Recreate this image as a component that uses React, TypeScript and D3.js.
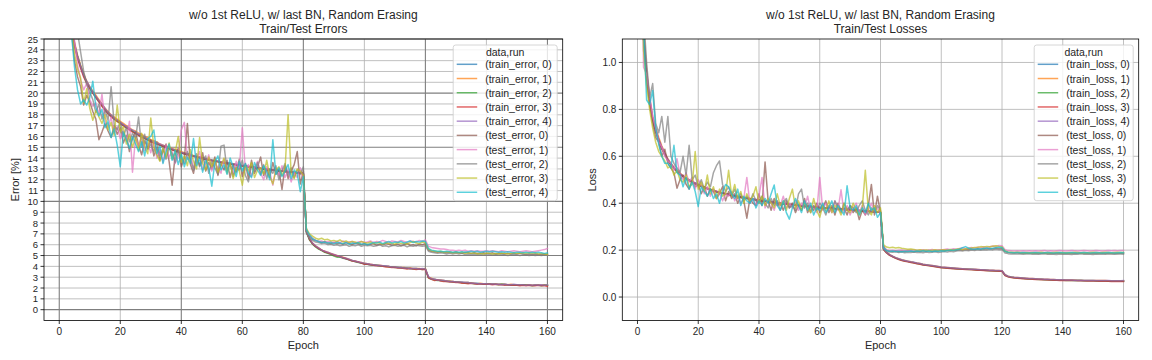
import React from 'react';
import * as d3 from 'd3';

// ---------- DATA ----------
const EPOCHS: number[] = d3.range(1, 161);

const ERR_LABELS = ['(train_error, 0)', '(train_error, 1)', '(train_error, 2)', '(train_error, 3)', '(train_error, 4)', '(test_error, 0)', '(test_error, 1)', '(test_error, 2)', '(test_error, 3)', '(test_error, 4)'];
const LOSS_LABELS = ['(train_loss, 0)', '(train_loss, 1)', '(train_loss, 2)', '(train_loss, 3)', '(train_loss, 4)', '(test_loss, 0)', '(test_loss, 1)', '(test_loss, 2)', '(test_loss, 3)', '(test_loss, 4)'];
const COLORS = ['#1f77b4', '#ff7f0e', '#2ca02c', '#d62728', '#9467bd', '#8c564b', '#e377c2', '#7f7f7f', '#bcbd22', '#17becf'];

const ERR_Y_TICKS = d3.range(0, 26);
const LOSS_Y_TICKS = [0, 0.2, 0.4, 0.6, 0.8, 1.0];
const X_TICKS = [0, 20, 40, 60, 80, 100, 120, 140, 160];

const TRAIN_ERR_0 = [
  55.2, 38.4, 31.0, 26.6, 24.4, 23.3, 22.4, 21.6, 21.0, 20.5,
  20.1, 19.7, 19.3, 18.9, 18.5, 18.2, 17.9, 17.7, 17.5, 17.3,
  17.1, 16.9, 16.7, 16.5, 16.3, 16.2, 16.0, 15.9, 15.7, 15.6,
  15.5, 15.4, 15.2, 15.1, 15.0, 14.9, 14.8, 14.7, 14.6, 14.5,
  14.4, 14.35, 14.3, 14.2, 14.1, 14.05, 14.0, 13.9, 13.85, 13.8,
  13.75, 13.7, 13.65, 13.6, 13.55, 13.5, 13.45, 13.4, 13.35, 13.3,
  13.25, 13.2, 13.2, 13.15, 13.1, 13.05, 13.0, 13.0, 12.95, 12.9,
  12.9, 12.85, 12.8, 12.8, 12.75, 12.7, 12.7, 12.65, 12.65, 12.6,
  7.2, 6.5, 6.1, 5.85, 5.65, 5.5, 5.35, 5.25, 5.15, 5.05,
  4.95, 4.9, 4.8, 4.7, 4.6, 4.55, 4.45, 4.4, 4.3, 4.25,
  4.2, 4.15, 4.15, 4.1, 4.05, 4.05, 4.0, 4.0, 3.95, 3.95,
  3.9, 3.9, 3.85, 3.85, 3.8, 3.8, 3.8, 3.75, 3.75, 3.75,
  3.0, 2.85, 2.8, 2.75, 2.7, 2.7, 2.65, 2.6, 2.6, 2.55,
  2.55, 2.5, 2.5, 2.5, 2.45, 2.45, 2.45, 2.4, 2.4, 2.4,
  2.4, 2.35, 2.35, 2.35, 2.35, 2.35, 2.3, 2.3, 2.3, 2.3,
  2.3, 2.3, 2.3, 2.25, 2.25, 2.25, 2.25, 2.25, 2.25, 2.25,
];
const TRAIN_ERR_1 = [
  56.0, 39.0, 31.5, 27.0, 24.7, 23.5, 22.6, 21.8, 21.1, 20.6,
  20.2, 19.8, 19.4, 19.0, 18.6, 18.3, 18.0, 17.8, 17.6, 17.4,
  17.2, 17.0, 16.8, 16.6, 16.5, 16.3, 16.2, 16.0, 15.9, 15.7,
  15.6, 15.5, 15.3, 15.2, 15.1, 15.0, 14.9, 14.8, 14.7, 14.6,
  14.5, 14.4, 14.3, 14.25, 14.15, 14.1, 14.0, 13.95, 13.9, 13.8,
  13.75, 13.7, 13.65, 13.6, 13.55, 13.5, 13.45, 13.4, 13.35, 13.3,
  13.25, 13.2, 13.15, 13.15, 13.1, 13.05, 13.0, 12.95, 12.95, 12.9,
  12.9, 12.85, 12.8, 12.75, 12.75, 12.7, 12.7, 12.65, 12.6, 12.6,
  7.25, 6.55, 6.15, 5.9, 5.7, 5.5, 5.4, 5.3, 5.2, 5.1,
  5.0, 4.9, 4.85, 4.75, 4.65, 4.55, 4.5, 4.4, 4.35, 4.3,
  4.25, 4.2, 4.15, 4.1, 4.1, 4.05, 4.0, 4.0, 3.95, 3.95,
  3.9, 3.9, 3.9, 3.85, 3.85, 3.8, 3.8, 3.8, 3.75, 3.8,
  3.0, 2.9, 2.8, 2.75, 2.75, 2.7, 2.65, 2.65, 2.6, 2.55,
  2.55, 2.5, 2.5, 2.5, 2.45, 2.45, 2.4, 2.45, 2.4, 2.4,
  2.4, 2.4, 2.35, 2.35, 2.35, 2.35, 2.3, 2.35, 2.3, 2.3,
  2.3, 2.3, 2.3, 2.3, 2.25, 2.3, 2.25, 2.25, 2.3, 2.25,
];
const TRAIN_ERR_2 = [
  55.5, 38.8, 31.2, 26.8, 24.5, 23.4, 22.5, 21.7, 21.0, 20.5,
  20.0, 19.6, 19.2, 18.8, 18.5, 18.1, 17.9, 17.6, 17.4, 17.2,
  17.0, 16.8, 16.7, 16.5, 16.3, 16.1, 16.0, 15.8, 15.7, 15.6,
  15.4, 15.3, 15.2, 15.1, 15.0, 14.9, 14.8, 14.7, 14.6, 14.5,
  14.4, 14.3, 14.25, 14.2, 14.1, 14.05, 13.95, 13.9, 13.85, 13.8,
  13.7, 13.65, 13.6, 13.55, 13.5, 13.45, 13.4, 13.4, 13.35, 13.3,
  13.25, 13.2, 13.15, 13.1, 13.05, 13.05, 13.0, 12.95, 12.9, 12.9,
  12.85, 12.8, 12.8, 12.75, 12.7, 12.7, 12.65, 12.65, 12.6, 12.55,
  7.15, 6.45, 6.05, 5.8, 5.6, 5.45, 5.3, 5.2, 5.1, 4.95,
  4.85, 4.85, 4.75, 4.7, 4.6, 4.5, 4.45, 4.35, 4.3, 4.25,
  4.2, 4.15, 4.1, 4.1, 4.05, 4.0, 4.0, 3.95, 3.95, 3.9,
  3.9, 3.85, 3.85, 3.8, 3.8, 3.75, 3.75, 3.75, 3.7, 3.75,
  2.95, 2.8, 2.75, 2.7, 2.7, 2.65, 2.6, 2.6, 2.55, 2.55,
  2.5, 2.5, 2.45, 2.45, 2.45, 2.4, 2.4, 2.4, 2.35, 2.4,
  2.35, 2.35, 2.35, 2.3, 2.35, 2.3, 2.3, 2.25, 2.3, 2.25,
  2.25, 2.3, 2.25, 2.25, 2.2, 2.25, 2.25, 2.2, 2.25, 2.25,
];
const TRAIN_ERR_3 = [
  54.8, 38.2, 30.8, 26.5, 24.3, 23.2, 22.3, 21.5, 20.9, 20.4,
  20.0, 19.6, 19.2, 18.8, 18.4, 18.1, 17.8, 17.6, 17.4, 17.2,
  17.0, 16.8, 16.6, 16.4, 16.3, 16.1, 15.9, 15.8, 15.7, 15.5,
  15.4, 15.3, 15.2, 15.1, 15.0, 14.85, 14.75, 14.65, 14.55, 14.45,
  14.4, 14.3, 14.25, 14.15, 14.1, 14.0, 13.95, 13.9, 13.85, 13.75,
  13.7, 13.65, 13.6, 13.55, 13.5, 13.45, 13.4, 13.35, 13.3, 13.3,
  13.25, 13.2, 13.15, 13.1, 13.1, 13.05, 13.0, 12.95, 12.9, 12.9,
  12.85, 12.85, 12.8, 12.75, 12.7, 12.7, 12.65, 12.6, 12.6, 12.55,
  7.2, 6.5, 6.1, 5.85, 5.65, 5.5, 5.35, 5.25, 5.15, 5.05,
  4.95, 4.9, 4.8, 4.7, 4.6, 4.5, 4.45, 4.4, 4.3, 4.2,
  4.2, 4.15, 4.1, 4.05, 4.05, 4.0, 3.95, 3.95, 3.9, 3.9,
  3.85, 3.85, 3.8, 3.75, 3.8, 3.75, 3.7, 3.75, 3.7, 3.7,
  2.95, 2.8, 2.7, 2.75, 2.65, 2.6, 2.6, 2.55, 2.55, 2.5,
  2.5, 2.45, 2.45, 2.4, 2.45, 2.4, 2.35, 2.4, 2.35, 2.35,
  2.35, 2.3, 2.35, 2.3, 2.3, 2.25, 2.3, 2.25, 2.25, 2.25,
  2.2, 2.25, 2.2, 2.25, 2.2, 2.2, 2.25, 2.2, 2.2, 2.15,
];
const TRAIN_ERR_4 = [
  55.8, 38.9, 31.3, 26.9, 24.6, 23.4, 22.5, 21.7, 21.1, 20.6,
  20.1, 19.7, 19.3, 19.0, 18.6, 18.2, 18.0, 17.7, 17.5, 17.3,
  17.1, 16.9, 16.7, 16.6, 16.4, 16.2, 16.1, 15.9, 15.8, 15.6,
  15.5, 15.4, 15.3, 15.2, 15.0, 14.95, 14.85, 14.75, 14.65, 14.55,
  14.45, 14.4, 14.3, 14.2, 14.15, 14.1, 14.0, 13.95, 13.9, 13.8,
  13.75, 13.7, 13.65, 13.6, 13.55, 13.5, 13.45, 13.4, 13.35, 13.35,
  13.3, 13.25, 13.2, 13.15, 13.1, 13.05, 13.05, 13.0, 12.95, 12.9,
  12.9, 12.85, 12.8, 12.8, 12.75, 12.7, 12.7, 12.65, 12.6, 12.6,
  7.3, 6.6, 6.15, 5.9, 5.7, 5.5, 5.4, 5.3, 5.2, 5.1,
  5.0, 4.9, 4.8, 4.75, 4.65, 4.55, 4.5, 4.4, 4.35, 4.3,
  4.25, 4.2, 4.15, 4.1, 4.1, 4.05, 4.05, 4.0, 3.95, 3.95,
  3.9, 3.9, 3.85, 3.85, 3.8, 3.8, 3.8, 3.75, 3.8, 3.75,
  3.05, 2.85, 2.8, 2.75, 2.75, 2.7, 2.65, 2.6, 2.6, 2.55,
  2.55, 2.55, 2.5, 2.5, 2.45, 2.45, 2.4, 2.4, 2.4, 2.4,
  2.35, 2.4, 2.35, 2.35, 2.3, 2.35, 2.3, 2.3, 2.35, 2.3,
  2.3, 2.3, 2.25, 2.3, 2.25, 2.3, 2.25, 2.3, 2.25, 2.3,
];
const TEST_ERR_0 = [
  52.0, 36.5, 29.0, 25.8, 23.0, 21.5, 20.6, 18.9, 19.8, 19.2,
  18.3, 17.6, 15.7, 16.4, 17.2, 16.5, 15.9, 17.0, 16.2, 16.8,
  15.4, 16.1, 14.6, 15.8, 16.4, 15.2, 14.3, 15.6, 14.9, 15.7,
  14.2, 15.0, 13.8, 14.6, 15.3, 13.7, 11.5, 14.3, 14.9, 13.2,
  14.0, 17.2, 13.4, 12.6, 14.1, 13.3, 14.5, 12.8, 13.6, 13.0,
  14.1, 12.4, 13.5, 12.9, 13.8, 12.2, 13.4, 12.7, 13.9, 12.3,
  13.5, 12.1, 13.8, 12.6, 13.2, 14.1, 12.4, 13.0, 12.2, 13.6,
  12.5, 12.9, 11.1, 13.3, 12.1, 12.8, 13.4, 14.6, 11.6, 12.8,
  7.3, 6.8, 6.5, 6.4, 6.3, 6.2, 6.3, 6.15, 6.1, 6.2,
  6.1, 6.15, 6.05, 6.2, 6.1, 6.0, 6.15, 6.1, 6.0, 6.1,
  6.0, 6.05, 6.1, 5.95, 6.05, 6.0, 6.1, 6.05, 5.95, 6.0,
  6.05, 5.9, 6.0, 6.1, 5.95, 6.0, 5.9, 6.05, 6.0, 6.1,
  5.5, 5.4, 5.35, 5.3, 5.35, 5.3, 5.25, 5.3, 5.25, 5.3,
  5.25, 5.2, 5.3, 5.25, 5.2, 5.25, 5.2, 5.2, 5.25, 5.2,
  5.2, 5.25, 5.15, 5.2, 5.2, 5.15, 5.2, 5.15, 5.2, 5.15,
  5.2, 5.15, 5.1, 5.15, 5.1, 5.15, 5.1, 5.1, 5.15, 5.1,
];
const TEST_ERR_1 = [
  56.0, 39.0, 30.5, 27.0, 24.8, 22.6, 21.2, 20.3, 20.9, 19.4,
  18.8, 19.1, 18.0, 19.9, 17.4, 16.9, 17.8, 16.3, 16.9, 15.8,
  16.5, 15.6, 17.4, 12.7, 15.9, 15.1, 16.0, 14.7, 15.4, 14.5,
  15.6, 14.0, 14.8, 13.6, 15.2, 14.1, 14.6, 13.5, 14.2, 16.6,
  17.3, 13.9, 14.4, 13.1, 13.8, 14.6, 12.9, 13.5, 14.3, 12.8,
  13.6, 13.1, 12.6, 13.9, 12.9, 13.4, 12.5, 13.7, 13.0, 16.8,
  12.9, 13.4, 12.3, 13.1, 13.7, 12.6, 12.0, 13.2, 12.7, 11.5,
  13.0, 12.4, 13.3, 12.2, 12.9, 11.8, 12.7, 12.2, 13.1, 12.0,
  7.3, 6.9, 6.6, 6.4, 6.3, 6.35, 6.2, 6.3, 6.25, 6.2,
  6.3, 6.2, 6.35, 6.2, 6.25, 6.3, 6.15, 6.25, 6.3, 6.2,
  6.25, 6.35, 6.2, 6.3, 6.25, 6.4, 6.3, 6.2, 6.35, 6.3,
  6.25, 6.4, 6.3, 6.2, 6.35, 6.3, 6.25, 6.4, 6.3, 6.45,
  5.85, 5.75, 5.7, 5.65, 5.6, 5.6, 5.55, 5.5, 5.5, 5.45,
  5.5, 5.45, 5.5, 5.4, 5.45, 5.4, 5.45, 5.4, 5.4, 5.45,
  5.4, 5.45, 5.4, 5.35, 5.45, 5.4, 5.35, 5.4, 5.45, 5.4,
  5.35, 5.4, 5.45, 5.4, 5.35, 5.4, 5.45, 5.5, 5.55, 5.65,
];
const TEST_ERR_2 = [
  57.0, 40.5, 32.0, 28.5, 26.0, 25.6, 23.8, 22.0, 20.8, 20.1,
  19.4, 18.2, 19.0, 17.6, 18.4, 17.5, 20.6, 17.1, 16.6, 17.3,
  16.0, 16.8, 15.5, 16.3, 15.8, 17.8, 15.0, 16.2, 14.8, 15.3,
  14.6, 15.5, 14.2, 14.9, 13.9, 15.0, 14.4, 13.6, 14.7, 14.0,
  13.5, 14.6, 13.9, 12.9, 14.4, 13.2, 13.8, 14.2, 12.6, 13.7,
  13.1, 12.5, 15.1, 15.2, 12.8, 13.6, 12.3, 13.2, 12.9, 13.8,
  12.4, 11.8, 13.3, 12.8, 13.6, 12.5, 13.4, 12.1, 13.0, 12.6,
  13.3, 12.0, 12.8, 13.5, 12.4, 13.1, 12.2, 12.9, 12.5, 13.2,
  7.1, 6.6, 6.4, 6.25, 6.2, 6.1, 6.15, 6.0, 6.05, 5.95,
  6.0, 5.9, 5.95, 6.0, 5.85, 5.95, 5.9, 6.0, 5.85, 5.95,
  5.9, 5.95, 5.85, 5.9, 6.0, 5.85, 5.9, 5.8, 5.9, 5.95,
  5.85, 5.9, 5.95, 5.8, 5.9, 5.85, 5.95, 5.9, 5.85, 5.9,
  5.4, 5.3, 5.25, 5.2, 5.25, 5.2, 5.15, 5.2, 5.15, 5.2,
  5.15, 5.2, 5.1, 5.15, 5.1, 5.15, 5.1, 5.1, 5.15, 5.05,
  5.1, 5.05, 5.1, 5.05, 5.1, 5.05, 5.0, 5.05, 5.1, 5.05,
  5.0, 5.05, 5.05, 5.0, 5.05, 5.0, 5.05, 5.0, 5.05, 5.05,
];
const TEST_ERR_3 = [
  54.0, 37.5, 30.0, 26.0, 23.6, 22.2, 21.4, 19.1, 20.4, 18.6,
  17.5, 18.4, 17.8, 17.2, 18.0, 16.6, 17.3, 16.1, 18.9, 16.4,
  16.9, 15.3, 16.2, 15.0, 15.9, 14.7, 16.3, 15.1, 14.4, 17.7,
  15.0, 14.3, 13.7, 14.9, 14.1, 15.4, 13.9, 14.5, 16.0, 13.6,
  14.2, 13.3, 14.8, 13.7, 13.0, 15.9, 13.5, 12.9, 14.1, 13.2,
  13.9, 12.7, 13.3, 14.0, 12.6, 13.5, 12.1, 13.1, 12.8, 11.5,
  13.3, 12.8, 13.6, 12.2, 12.9, 13.1, 12.5, 13.8, 12.3, 11.6,
  12.9, 13.2, 12.4, 13.0, 18.0, 12.6, 12.1, 13.0, 12.8, 12.4,
  7.5, 7.0, 6.8, 6.6, 6.5, 6.6, 6.45, 6.5, 6.35, 6.4,
  6.3, 6.45, 6.25, 6.35, 6.2, 6.3, 6.25, 6.15, 6.3, 6.2,
  6.15, 6.25, 6.1, 6.2, 6.15, 6.05, 6.2, 6.1, 6.15, 6.05,
  6.2, 6.1, 6.15, 6.05, 6.2, 6.3, 6.15, 6.1, 6.25, 6.2,
  5.6, 5.45, 5.4, 5.35, 5.4, 5.3, 5.35, 5.3, 5.25, 5.3,
  5.25, 5.3, 5.2, 5.25, 5.2, 5.25, 5.15, 5.2, 5.15, 5.2,
  5.2, 5.15, 5.2, 5.15, 5.2, 5.2, 5.15, 5.2, 5.25, 5.2,
  5.2, 5.25, 5.2, 5.25, 5.2, 5.25, 5.15, 5.2, 5.15, 5.1,
];
const TEST_ERR_4 = [
  53.5, 37.0, 29.5, 25.5, 22.4, 20.3, 19.0, 19.4, 18.9, 19.6,
  21.1, 18.7, 17.9, 18.5, 16.8, 17.4, 15.9, 16.7, 15.2, 13.2,
  16.4, 15.7, 14.9, 16.0, 15.3, 14.6, 15.5, 14.2, 15.8, 16.0,
  16.6, 14.4, 15.1, 13.5, 14.6, 15.3, 13.8, 14.7, 13.4, 14.4,
  13.2, 14.1, 13.5, 15.8, 13.3, 14.0, 12.7, 13.8, 13.1, 11.4,
  13.6, 14.2, 12.9, 13.4, 12.5, 14.0, 13.2, 12.3, 13.7, 12.8,
  13.5, 12.6, 12.2, 13.6, 12.9, 12.4, 13.3, 12.7, 12.0, 15.7,
  12.5, 13.1, 12.3, 12.8, 13.4, 12.1, 12.9, 12.6, 10.9, 12.3,
  7.4, 6.9, 6.55, 6.4, 6.3, 6.2, 6.25, 6.15, 6.2, 6.1,
  6.2, 6.15, 6.1, 6.2, 6.05, 6.15, 6.1, 6.2, 6.05, 6.1,
  6.0, 6.1, 6.2, 6.15, 6.25, 6.1, 6.2, 6.3, 6.15, 6.25,
  6.2, 6.3, 6.15, 6.25, 6.35, 6.2, 6.3, 6.25, 6.35, 6.3,
  5.65, 5.5, 5.45, 5.4, 5.4, 5.35, 5.4, 5.35, 5.3, 5.35,
  5.3, 5.35, 5.3, 5.35, 5.4, 5.35, 5.4, 5.3, 5.35, 5.4,
  5.35, 5.4, 5.35, 5.3, 5.35, 5.3, 5.35, 5.3, 5.25, 5.3,
  5.3, 5.25, 5.3, 5.25, 5.3, 5.25, 5.3, 5.25, 5.2, 5.25,
];

const TRAIN_LOSS_0 = [
  1.85, 1.12, 0.95, 0.84, 0.76, 0.71, 0.67, 0.635, 0.61, 0.585,
  0.566, 0.550, 0.536, 0.525, 0.515, 0.506, 0.498, 0.491, 0.485, 0.479,
  0.473, 0.468, 0.463, 0.458, 0.454, 0.450, 0.446, 0.443, 0.440, 0.437,
  0.434, 0.431, 0.428, 0.426, 0.423, 0.421, 0.419, 0.417, 0.415, 0.413,
  0.411, 0.409, 0.407, 0.405, 0.403, 0.402, 0.400, 0.398, 0.397, 0.395,
  0.394, 0.392, 0.391, 0.389, 0.388, 0.387, 0.385, 0.384, 0.383, 0.382,
  0.381, 0.380, 0.379, 0.378, 0.377, 0.376, 0.375, 0.374, 0.373, 0.372,
  0.371, 0.370, 0.369, 0.368, 0.367, 0.366, 0.365, 0.364, 0.363, 0.362,
  0.205, 0.190, 0.180, 0.173, 0.167, 0.162, 0.158, 0.155, 0.152, 0.149,
  0.147, 0.144, 0.142, 0.139, 0.137, 0.135, 0.133, 0.131, 0.129, 0.127,
  0.126, 0.125, 0.124, 0.123, 0.122, 0.121, 0.120, 0.119, 0.118, 0.118,
  0.117, 0.116, 0.115, 0.115, 0.114, 0.113, 0.113, 0.112, 0.112, 0.111,
  0.094, 0.088, 0.085, 0.083, 0.082, 0.081, 0.080, 0.079, 0.078, 0.078,
  0.077, 0.076, 0.076, 0.075, 0.075, 0.074, 0.074, 0.073, 0.073, 0.073,
  0.072, 0.072, 0.072, 0.071, 0.071, 0.071, 0.070, 0.070, 0.070, 0.070,
  0.069, 0.069, 0.069, 0.069, 0.068, 0.068, 0.068, 0.068, 0.068, 0.068,
];
const TRAIN_LOSS_1 = [
  1.88, 1.15, 0.97, 0.85, 0.77, 0.72, 0.68, 0.645, 0.615, 0.59,
  0.570, 0.553, 0.539, 0.528, 0.517, 0.508, 0.500, 0.493, 0.486, 0.480,
  0.475, 0.469, 0.464, 0.460, 0.455, 0.451, 0.447, 0.444, 0.441, 0.438,
  0.435, 0.432, 0.429, 0.427, 0.424, 0.422, 0.420, 0.418, 0.416, 0.414,
  0.412, 0.410, 0.408, 0.406, 0.404, 0.402, 0.401, 0.399, 0.398, 0.396,
  0.395, 0.393, 0.392, 0.390, 0.389, 0.388, 0.386, 0.385, 0.384, 0.383,
  0.382, 0.381, 0.380, 0.379, 0.378, 0.377, 0.376, 0.375, 0.374, 0.373,
  0.372, 0.371, 0.370, 0.369, 0.368, 0.367, 0.366, 0.365, 0.364, 0.363,
  0.207, 0.192, 0.181, 0.174, 0.168, 0.163, 0.159, 0.156, 0.153, 0.150,
  0.147, 0.145, 0.143, 0.140, 0.138, 0.136, 0.134, 0.132, 0.130, 0.128,
  0.127, 0.126, 0.125, 0.124, 0.123, 0.122, 0.121, 0.120, 0.119, 0.119,
  0.118, 0.117, 0.116, 0.116, 0.115, 0.114, 0.114, 0.113, 0.113, 0.112,
  0.095, 0.089, 0.086, 0.084, 0.083, 0.082, 0.081, 0.080, 0.079, 0.079,
  0.078, 0.077, 0.077, 0.076, 0.076, 0.075, 0.075, 0.074, 0.074, 0.074,
  0.073, 0.073, 0.073, 0.072, 0.072, 0.072, 0.071, 0.071, 0.071, 0.071,
  0.070, 0.070, 0.070, 0.070, 0.069, 0.069, 0.069, 0.069, 0.069, 0.069,
];
const TRAIN_LOSS_2 = [
  1.84, 1.11, 0.94, 0.83, 0.755, 0.705, 0.665, 0.632, 0.607, 0.583,
  0.564, 0.548, 0.534, 0.523, 0.513, 0.504, 0.496, 0.489, 0.483, 0.477,
  0.471, 0.466, 0.461, 0.457, 0.452, 0.448, 0.445, 0.442, 0.439, 0.436,
  0.433, 0.430, 0.427, 0.425, 0.422, 0.420, 0.418, 0.416, 0.414, 0.412,
  0.410, 0.408, 0.406, 0.404, 0.402, 0.401, 0.399, 0.397, 0.396, 0.394,
  0.393, 0.391, 0.390, 0.388, 0.387, 0.386, 0.384, 0.383, 0.382, 0.381,
  0.380, 0.379, 0.378, 0.377, 0.376, 0.375, 0.374, 0.373, 0.372, 0.371,
  0.370, 0.369, 0.368, 0.367, 0.366, 0.365, 0.364, 0.363, 0.362, 0.361,
  0.204, 0.189, 0.179, 0.172, 0.166, 0.161, 0.157, 0.154, 0.151, 0.148,
  0.146, 0.143, 0.141, 0.138, 0.136, 0.134, 0.132, 0.130, 0.128, 0.126,
  0.125, 0.124, 0.123, 0.122, 0.121, 0.120, 0.119, 0.118, 0.117, 0.117,
  0.116, 0.115, 0.114, 0.114, 0.113, 0.112, 0.112, 0.111, 0.111, 0.110,
  0.093, 0.087, 0.084, 0.082, 0.081, 0.080, 0.079, 0.078, 0.077, 0.077,
  0.076, 0.075, 0.075, 0.074, 0.074, 0.073, 0.073, 0.072, 0.072, 0.072,
  0.071, 0.071, 0.071, 0.070, 0.070, 0.070, 0.069, 0.069, 0.069, 0.069,
  0.068, 0.068, 0.068, 0.068, 0.067, 0.067, 0.067, 0.067, 0.067, 0.067,
];
const TRAIN_LOSS_3 = [
  1.83, 1.10, 0.94, 0.835, 0.757, 0.707, 0.667, 0.633, 0.608, 0.584,
  0.565, 0.549, 0.535, 0.524, 0.514, 0.505, 0.497, 0.490, 0.484, 0.478,
  0.472, 0.467, 0.462, 0.457, 0.453, 0.449, 0.445, 0.442, 0.439, 0.436,
  0.433, 0.430, 0.428, 0.425, 0.423, 0.421, 0.418, 0.416, 0.414, 0.412,
  0.410, 0.408, 0.406, 0.405, 0.403, 0.401, 0.399, 0.398, 0.396, 0.395,
  0.393, 0.392, 0.390, 0.389, 0.388, 0.386, 0.385, 0.384, 0.383, 0.381,
  0.380, 0.379, 0.378, 0.377, 0.376, 0.375, 0.374, 0.373, 0.372, 0.371,
  0.370, 0.369, 0.368, 0.367, 0.366, 0.365, 0.364, 0.363, 0.362, 0.361,
  0.203, 0.188, 0.178, 0.171, 0.165, 0.160, 0.156, 0.153, 0.150, 0.147,
  0.145, 0.142, 0.140, 0.137, 0.135, 0.133, 0.131, 0.129, 0.127, 0.125,
  0.124, 0.123, 0.122, 0.121, 0.120, 0.119, 0.118, 0.117, 0.117, 0.116,
  0.115, 0.114, 0.114, 0.113, 0.112, 0.112, 0.111, 0.111, 0.110, 0.110,
  0.092, 0.086, 0.083, 0.081, 0.080, 0.079, 0.078, 0.077, 0.077, 0.076,
  0.075, 0.075, 0.074, 0.074, 0.073, 0.073, 0.072, 0.072, 0.071, 0.071,
  0.071, 0.070, 0.070, 0.070, 0.069, 0.069, 0.069, 0.068, 0.068, 0.068,
  0.068, 0.067, 0.067, 0.067, 0.067, 0.066, 0.066, 0.066, 0.066, 0.066,
];
const TRAIN_LOSS_4 = [
  1.87, 1.13, 0.96, 0.845, 0.765, 0.715, 0.673, 0.64, 0.612, 0.588,
  0.568, 0.552, 0.537, 0.526, 0.516, 0.507, 0.499, 0.492, 0.486, 0.480,
  0.474, 0.469, 0.464, 0.459, 0.455, 0.451, 0.447, 0.444, 0.441, 0.438,
  0.435, 0.432, 0.429, 0.427, 0.424, 0.422, 0.420, 0.418, 0.416, 0.414,
  0.412, 0.410, 0.408, 0.406, 0.404, 0.403, 0.401, 0.399, 0.398, 0.396,
  0.395, 0.393, 0.392, 0.390, 0.389, 0.388, 0.386, 0.385, 0.384, 0.383,
  0.382, 0.381, 0.380, 0.379, 0.378, 0.377, 0.376, 0.375, 0.374, 0.373,
  0.372, 0.371, 0.370, 0.369, 0.368, 0.367, 0.366, 0.365, 0.364, 0.363,
  0.206, 0.191, 0.181, 0.174, 0.168, 0.163, 0.159, 0.156, 0.153, 0.150,
  0.148, 0.145, 0.143, 0.140, 0.138, 0.136, 0.134, 0.132, 0.130, 0.128,
  0.127, 0.126, 0.125, 0.124, 0.123, 0.122, 0.121, 0.120, 0.119, 0.119,
  0.118, 0.117, 0.116, 0.116, 0.115, 0.114, 0.114, 0.113, 0.113, 0.112,
  0.095, 0.089, 0.086, 0.084, 0.083, 0.082, 0.081, 0.080, 0.079, 0.079,
  0.078, 0.077, 0.077, 0.076, 0.076, 0.075, 0.075, 0.074, 0.074, 0.074,
  0.073, 0.073, 0.073, 0.072, 0.072, 0.072, 0.071, 0.071, 0.071, 0.071,
  0.070, 0.070, 0.070, 0.070, 0.070, 0.069, 0.069, 0.069, 0.069, 0.070,
];
const TEST_LOSS_0 = [
  1.60, 1.10, 0.93, 0.82, 0.74, 0.68, 0.66, 0.60, 0.63, 0.57,
  0.55, 0.53, 0.464, 0.50, 0.52, 0.48, 0.46, 0.50, 0.47, 0.48,
  0.44, 0.47, 0.43, 0.46, 0.45, 0.42, 0.44, 0.47, 0.41, 0.45,
  0.42, 0.44, 0.40, 0.43, 0.41, 0.336, 0.42, 0.40, 0.39, 0.44,
  0.39, 0.576, 0.41, 0.37, 0.42, 0.39, 0.40, 0.37, 0.41, 0.38,
  0.40, 0.36, 0.39, 0.37, 0.42, 0.36, 0.39, 0.37, 0.40, 0.36,
  0.38, 0.41, 0.36, 0.39, 0.35, 0.40, 0.37, 0.38, 0.35, 0.39,
  0.36, 0.38, 0.33, 0.37, 0.35, 0.39, 0.48, 0.35, 0.43, 0.36,
  0.215, 0.200, 0.196, 0.195, 0.197, 0.193, 0.196, 0.194, 0.197, 0.195,
  0.193, 0.196, 0.194, 0.197, 0.195, 0.198, 0.194, 0.197, 0.196, 0.199,
  0.197, 0.200, 0.198, 0.201, 0.199, 0.203, 0.200, 0.204, 0.202, 0.205,
  0.203, 0.206, 0.204, 0.207, 0.205, 0.208, 0.206, 0.209, 0.207, 0.208,
  0.194, 0.190, 0.189, 0.188, 0.189, 0.187, 0.188, 0.187, 0.188, 0.187,
  0.188, 0.186, 0.187, 0.188, 0.186, 0.187, 0.186, 0.187, 0.188, 0.186,
  0.187, 0.186, 0.187, 0.186, 0.187, 0.188, 0.186, 0.187, 0.186, 0.187,
  0.186, 0.187, 0.188, 0.186, 0.187, 0.186, 0.187, 0.186, 0.187, 0.187,
];
const TEST_LOSS_1 = [
  1.75, 0.98, 0.95, 0.86, 0.77, 0.72, 0.66, 0.64, 0.60, 0.58,
  0.57, 0.54, 0.59, 0.52, 0.50, 0.53, 0.49, 0.51, 0.46, 0.50,
  0.48, 0.44, 0.47, 0.43, 0.46, 0.42, 0.45, 0.41, 0.44, 0.43,
  0.45, 0.41, 0.43, 0.40, 0.42, 0.51, 0.40, 0.42, 0.39, 0.43,
  0.51, 0.38, 0.42, 0.40, 0.37, 0.41, 0.39, 0.43, 0.38, 0.40,
  0.38, 0.41, 0.37, 0.40, 0.38, 0.43, 0.37, 0.39, 0.36, 0.51,
  0.37, 0.40, 0.38, 0.36, 0.41, 0.37, 0.457, 0.36, 0.39, 0.35,
  0.38, 0.40, 0.36, 0.39, 0.35, 0.37, 0.40, 0.36, 0.38, 0.35,
  0.212, 0.201, 0.198, 0.200, 0.197, 0.199, 0.201, 0.198, 0.200, 0.199,
  0.201, 0.198, 0.200, 0.202, 0.199, 0.201, 0.203, 0.200, 0.202, 0.201,
  0.203, 0.205, 0.202, 0.206, 0.204, 0.207, 0.210, 0.206, 0.209, 0.211,
  0.208, 0.212, 0.210, 0.214, 0.211, 0.215, 0.218, 0.216, 0.220, 0.219,
  0.202, 0.198, 0.197, 0.196, 0.197, 0.196, 0.197, 0.196, 0.197, 0.196,
  0.197, 0.196, 0.197, 0.198, 0.196, 0.197, 0.196, 0.197, 0.198, 0.197,
  0.196, 0.197, 0.198, 0.197, 0.196, 0.197, 0.198, 0.197, 0.196, 0.197,
  0.198, 0.197, 0.196, 0.197, 0.198, 0.197, 0.198, 0.197, 0.198, 0.198,
];
const TEST_LOSS_2 = [
  1.90, 1.20, 1.00, 0.85, 0.91, 0.74, 0.70, 0.77, 0.66, 0.77,
  0.60, 0.57, 0.55, 0.53, 0.60, 0.52, 0.647, 0.50, 0.52, 0.47,
  0.50, 0.46, 0.49, 0.47, 0.53, 0.56, 0.58, 0.48, 0.45, 0.47,
  0.43, 0.46, 0.42, 0.44, 0.41, 0.43, 0.40, 0.44, 0.41, 0.40,
  0.43, 0.40, 0.38, 0.42, 0.39, 0.41, 0.37, 0.40, 0.42, 0.38,
  0.39, 0.37, 0.44, 0.46, 0.38, 0.40, 0.36, 0.39, 0.37, 0.40,
  0.38, 0.35, 0.39, 0.37, 0.41, 0.38, 0.36, 0.40, 0.37, 0.39,
  0.38, 0.36, 0.39, 0.41, 0.37, 0.35, 0.38, 0.36, 0.39, 0.37,
  0.205, 0.194, 0.192, 0.191, 0.193, 0.190, 0.192, 0.189, 0.191, 0.190,
  0.192, 0.190, 0.191, 0.189, 0.192, 0.190, 0.191, 0.193, 0.190, 0.192,
  0.194, 0.192, 0.195, 0.193, 0.196, 0.198, 0.196, 0.199, 0.197, 0.200,
  0.198, 0.201, 0.199, 0.202, 0.200, 0.203, 0.201, 0.204, 0.202, 0.203,
  0.188, 0.185, 0.184, 0.183, 0.184, 0.183, 0.182, 0.183, 0.184, 0.182,
  0.183, 0.182, 0.183, 0.184, 0.182, 0.183, 0.182, 0.181, 0.183, 0.182,
  0.183, 0.182, 0.181, 0.183, 0.182, 0.184, 0.182, 0.183, 0.182, 0.181,
  0.183, 0.182, 0.183, 0.182, 0.184, 0.183, 0.182, 0.183, 0.184, 0.183,
];
const TEST_LOSS_3 = [
  1.65, 1.05, 0.90, 0.80, 0.72, 0.66, 0.62, 0.60, 0.58, 0.55,
  0.56, 0.52, 0.54, 0.50, 0.49, 0.52, 0.47, 0.48, 0.62, 0.46,
  0.49, 0.45, 0.52, 0.44, 0.47, 0.42, 0.46, 0.43, 0.44, 0.54,
  0.43, 0.48, 0.42, 0.45, 0.40, 0.44, 0.41, 0.43, 0.47, 0.40,
  0.43, 0.39, 0.42, 0.40, 0.38, 0.44, 0.39, 0.41, 0.37, 0.42,
  0.46, 0.38, 0.41, 0.37, 0.40, 0.38, 0.36, 0.42, 0.37, 0.34,
  0.39, 0.37, 0.41, 0.36, 0.39, 0.38, 0.35, 0.40, 0.37, 0.36,
  0.40, 0.37, 0.35, 0.38, 0.54, 0.37, 0.35, 0.39, 0.36, 0.38,
  0.222, 0.213, 0.210, 0.212, 0.209, 0.211, 0.208, 0.206, 0.204, 0.205,
  0.203, 0.200, 0.202, 0.199, 0.201, 0.198, 0.200, 0.202, 0.199, 0.201,
  0.202, 0.200, 0.203, 0.201, 0.204, 0.206, 0.203, 0.205, 0.207, 0.209,
  0.211, 0.212, 0.215, 0.213, 0.216, 0.214, 0.217, 0.219, 0.216, 0.214,
  0.196, 0.192, 0.191, 0.190, 0.191, 0.190, 0.189, 0.190, 0.189, 0.190,
  0.189, 0.190, 0.191, 0.189, 0.190, 0.189, 0.190, 0.191, 0.189, 0.190,
  0.189, 0.190, 0.189, 0.191, 0.190, 0.189, 0.190, 0.189, 0.190, 0.191,
  0.190, 0.189, 0.190, 0.191, 0.190, 0.189, 0.190, 0.191, 0.190, 0.190,
];
const TEST_LOSS_4 = [
  1.70, 1.15, 0.84, 0.82, 0.88, 0.72, 0.65, 0.60, 0.57, 0.57,
  0.55, 0.647, 0.53, 0.52, 0.47, 0.51, 0.46, 0.49, 0.45, 0.386,
  0.47, 0.45, 0.43, 0.46, 0.42, 0.44, 0.40, 0.45, 0.48, 0.47,
  0.44, 0.42, 0.46, 0.39, 0.43, 0.41, 0.40, 0.42, 0.38, 0.41,
  0.39, 0.42, 0.40, 0.44, 0.478, 0.39, 0.37, 0.41, 0.36, 0.332,
  0.38, 0.42, 0.39, 0.36, 0.41, 0.37, 0.40, 0.35, 0.38, 0.37,
  0.40, 0.36, 0.38, 0.41, 0.36, 0.39, 0.37, 0.35, 0.474, 0.38,
  0.37, 0.39, 0.35, 0.38, 0.36, 0.40, 0.37, 0.38, 0.34, 0.36,
  0.210, 0.198, 0.195, 0.196, 0.194, 0.195, 0.193, 0.195, 0.194, 0.196,
  0.194, 0.196, 0.195, 0.197, 0.195, 0.196, 0.194, 0.196, 0.195, 0.197,
  0.196, 0.198, 0.200, 0.199, 0.202, 0.204, 0.210, 0.215, 0.208, 0.205,
  0.204, 0.206, 0.205, 0.207, 0.209, 0.206, 0.208, 0.210, 0.212, 0.211,
  0.195, 0.191, 0.190, 0.189, 0.190, 0.189, 0.190, 0.189, 0.188, 0.189,
  0.190, 0.189, 0.188, 0.189, 0.190, 0.189, 0.188, 0.189, 0.190, 0.189,
  0.188, 0.189, 0.190, 0.189, 0.188, 0.189, 0.190, 0.189, 0.188, 0.189,
  0.190, 0.189, 0.188, 0.189, 0.190, 0.189, 0.188, 0.189, 0.190, 0.189,
];

const ERR_SERIES = [TRAIN_ERR_0, TRAIN_ERR_1, TRAIN_ERR_2, TRAIN_ERR_3, TRAIN_ERR_4, TEST_ERR_0, TEST_ERR_1, TEST_ERR_2, TEST_ERR_3, TEST_ERR_4];
const LOSS_SERIES = [TRAIN_LOSS_0, TRAIN_LOSS_1, TRAIN_LOSS_2, TRAIN_LOSS_3, TRAIN_LOSS_4, TEST_LOSS_0, TEST_LOSS_1, TEST_LOSS_2, TEST_LOSS_3, TEST_LOSS_4];

// ---------- RENDER ----------
const FONT = "'Liberation Sans', Arial, sans-serif";
const TXT = '#262626';

type PanelProps = {
  id: string;
  x0: number; x1: number; y0: number; y1: number;
  yDomain: [number, number];
  yTicks: number[];
  yFmt: (v: number) => string;
  minorY: boolean;
  series: number[][];
  labels: string[];
  title2: string;
  ylabel: string;
  ylabelX: number;
  legendW: number;
};

function Panel(p: PanelProps) {
  const x = d3.scaleLinear().domain([-5, 165]).range([p.x0, p.x1]);
  const y = d3.scaleLinear().domain(p.yDomain).range([p.y1, p.y0]);
  const line = d3.line<number>().x((_, i) => x(EPOCHS[i])).y((d) => y(d));
  const cx = (p.x0 + p.x1) / 2;
  const cy = (p.y0 + p.y1) / 2;
  const lx = p.x1 - 5.5 - p.legendW;
  const ly = p.y0 + 6;
  const lh = 155.7;
  const isMajorY = (v: number) => !p.minorY || v % 5 === 0;
  const isMajorX = (v: number) => !p.minorY || v % 40 === 0;
  const entryY = (i: number) => ly + 19.3 + i * 14.22;
  return (
    <g>
      <defs>
        <clipPath id={p.id}>
          <rect x={p.x0} y={p.y0} width={p.x1 - p.x0} height={p.y1 - p.y0} />
        </clipPath>
      </defs>
      {/* grid: light */}
      {X_TICKS.filter((v) => !isMajorX(v)).map((v) => (
        <line key={'gx' + v} x1={x(v)} x2={x(v)} y1={p.y0} y2={p.y1} stroke="#b0b0b0" strokeWidth={0.8} />
      ))}
      {p.yTicks.filter((v) => !isMajorY(v)).map((v) => (
        <line key={'gy' + v} x1={p.x0} x2={p.x1} y1={y(v)} y2={y(v)} stroke="#b0b0b0" strokeWidth={0.8} />
      ))}
      {/* grid: major */}
      {X_TICKS.filter((v) => isMajorX(v)).map((v) => (
        <line key={'Gx' + v} x1={x(v)} x2={x(v)} y1={p.y0} y2={p.y1}
          stroke={p.minorY ? '#7f7f7f' : '#b0b0b0'} strokeWidth={p.minorY ? 1.1 : 0.8} />
      ))}
      {p.yTicks.filter((v) => isMajorY(v)).map((v) => (
        <line key={'Gy' + v} x1={p.x0} x2={p.x1} y1={y(v)} y2={y(v)}
          stroke={p.minorY ? '#7f7f7f' : '#b0b0b0'} strokeWidth={p.minorY ? 1.1 : 0.8} />
      ))}
      {/* data */}
      <g clipPath={`url(#${p.id})`}>
        {p.series.map((s, i) => (
          <path key={'s' + i} d={line(s) || ''} fill="none" stroke={COLORS[i]} strokeOpacity={0.7}
            strokeWidth={1.5} strokeLinejoin="round" strokeLinecap="square" />
        ))}
      </g>
      {/* spines */}
      <rect x={p.x0} y={p.y0} width={p.x1 - p.x0} height={p.y1 - p.y0} fill="none" stroke="#000" strokeWidth={0.8} />
      {/* x ticks */}
      {X_TICKS.map((v) => (
        <g key={'xt' + v}>
          <line x1={x(v)} x2={x(v)} y1={p.y1} y2={p.y1 + 3.5} stroke="#000" strokeWidth={0.8} />
          <text x={x(v)} y={p.y1 + 11} textAnchor="middle" dominantBaseline="central" fontSize={10} fill={TXT} fontFamily={FONT}>{v}</text>
        </g>
      ))}
      {/* y ticks */}
      {p.yTicks.map((v) => (
        <g key={'yt' + v}>
          <line x1={p.x0 - 3.5} x2={p.x0} y1={y(v)} y2={y(v)} stroke="#000" strokeWidth={0.8} />
          <text x={p.x0 - 6} y={y(v)} textAnchor="end" dominantBaseline="central" fontSize={p.minorY ? 9.5 : 10} fill={TXT} fontFamily={FONT}>{p.yFmt(v)}</text>
        </g>
      ))}
      {/* axis labels */}
      <text x={cx} y={p.y1 + 24} textAnchor="middle" dominantBaseline="central" fontSize={11} fill={TXT} fontFamily={FONT}>Epoch</text>
      <text transform={`translate(${p.ylabelX},${cy}) rotate(-90)`} textAnchor="middle" dominantBaseline="central" fontSize={11} fill={TXT} fontFamily={FONT}>{p.ylabel}</text>
      {/* two-line title */}
      <text x={cx} y={15.2} textAnchor="middle" dominantBaseline="central" fontSize={12} fill={TXT} fontFamily={FONT}>w/o 1st ReLU, w/ last BN, Random Erasing</text>
      <text x={cx} y={28.8} textAnchor="middle" dominantBaseline="central" fontSize={12} fill={TXT} fontFamily={FONT}>{p.title2}</text>
      {/* legend */}
      <rect x={lx} y={ly} width={p.legendW} height={lh} rx={2.5} fill="#fff" fillOpacity={0.8} stroke="#cccccc" strokeWidth={0.8} />
      <text x={lx + p.legendW / 2} y={ly + 7.0} textAnchor="middle" dominantBaseline="central" fontSize={10.5} fill={TXT} fontFamily={FONT}>data,run</text>
      {p.labels.map((lab, i) => (
        <g key={'lg' + i}>
          <line x1={lx + 3.5} x2={lx + 24} y1={entryY(i)} y2={entryY(i)} stroke={COLORS[i]} strokeOpacity={0.7} strokeWidth={1.5} />
          <text x={lx + 32} y={entryY(i)} dominantBaseline="central" fontSize={10.5} fill={TXT} fontFamily={FONT}>{lab}</text>
        </g>
      ))}
    </g>
  );
}

export default function App() {
  return (
    <svg width={1152} height={360} viewBox="0 0 1152 360"
      style={{ position: 'absolute', left: 0, top: 0, background: '#fff', display: 'block' }}>
      <rect x={0} y={0} width={1152} height={360} fill="#fff" />
      <Panel id="clipErr" x0={44} x1={562.7} y0={39} y1={320.5} yDomain={[-1, 25]} yTicks={ERR_Y_TICKS}
        yFmt={(v) => String(v)} minorY={true} series={ERR_SERIES} labels={ERR_LABELS}
        title2="Train/Test Errors" ylabel="Error [%]" ylabelX={15} legendW={104} />
      <Panel id="clipLoss" x0={622.3} x1={1138.7} y0={39} y1={320.5} yDomain={[-0.1, 1.1]} yTicks={LOSS_Y_TICKS}
        yFmt={(v) => v.toFixed(1)} minorY={false} series={LOSS_SERIES} labels={LOSS_LABELS}
        title2="Train/Test Losses" ylabel="Loss" ylabelX={592} legendW={99} />
    </svg>
  );
}
